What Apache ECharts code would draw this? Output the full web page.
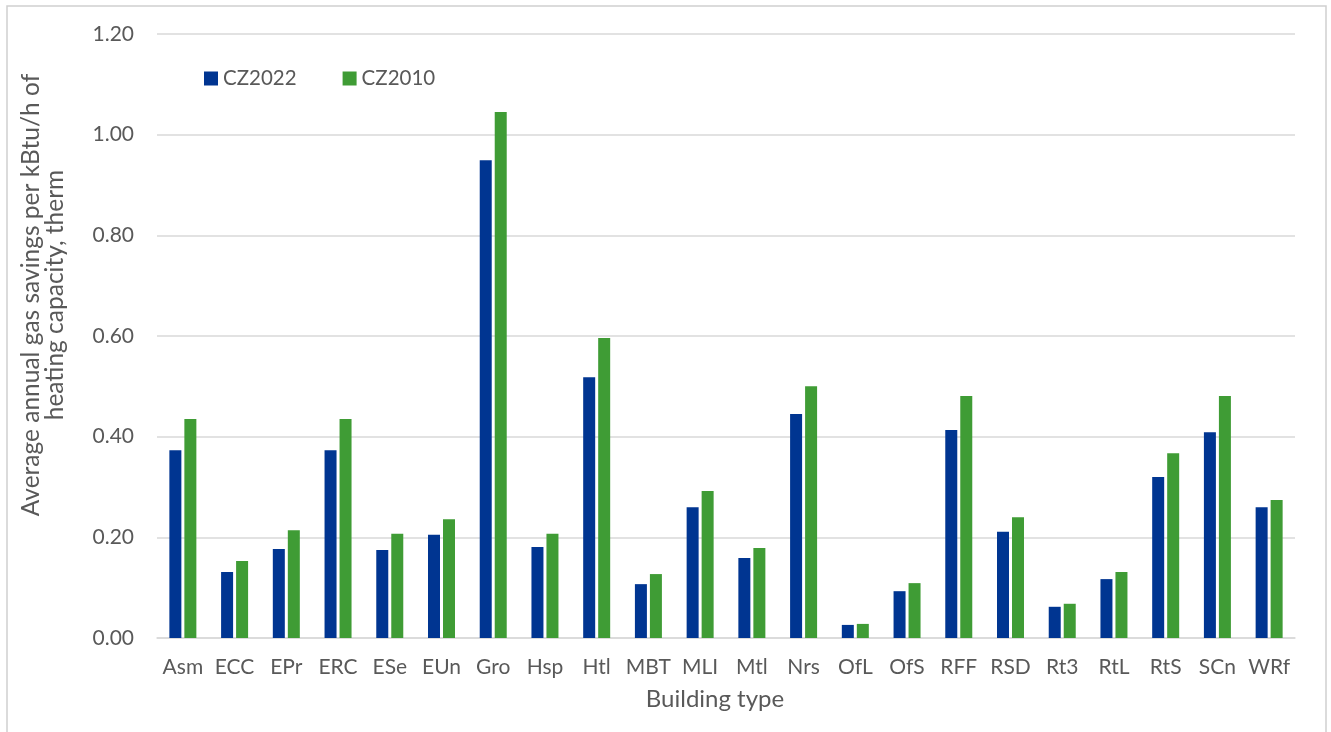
<!DOCTYPE html>
<html>
<head>
<meta charset="utf-8">
<script src="https://cdn.jsdelivr.net/npm/echarts@6/dist/echarts.min.js"></script>
<style>html,body{margin:0;padding:0;background:#fff;}#c{width:1331px;height:732px;}</style>
</head>
<body>
<div id="c"></div>
<script>
const categories = ["Asm","ECC","EPr","ERC","ESe","EUn","Gro","Hsp","Htl","MBT","MLI","Mtl","Nrs","OfL","OfS","RFF","RSD","Rt3","RtL","RtS","SCn","WRf"];
const cz2022 = [0.373,0.131,0.177,0.373,0.175,0.205,0.949,0.181,0.518,0.107,0.260,0.159,0.445,0.026,0.093,0.413,0.211,0.062,0.117,0.320,0.409,0.260];
const cz2010 = [0.435,0.153,0.214,0.435,0.207,0.236,1.045,0.207,0.596,0.127,0.292,0.179,0.500,0.028,0.109,0.481,0.240,0.068,0.131,0.367,0.481,0.274];
const seriesNames = ["CZ2022","CZ2010"];
const colors = ["#003591","#3f9c35"];

const chart = echarts.init(document.getElementById('c'));
const font = "Lato, 'Open Sans', sans-serif";
chart.setOption({
  animation: false,
  textStyle: {fontFamily: font},
  graphic: [{type:'rect', shape:{x:7,y:6,width:1319,height:740}, style:{fill:'none', stroke:'#d0d0d0', lineWidth:1.5}, silent:true}],
  legend: {
    left: 199, top: 63, itemWidth: 14, itemHeight: 14, itemGap: 46,
    icon: 'rect',
    textStyle: {fontFamily: font, fontSize: 20.5, color: '#595959'},
    data: seriesNames
  },
  grid: {left: 157, right: 36, top: 34, bottom: 94},
  xAxis: {
    type: 'category', data: categories,
    name: 'Building type', nameLocation: 'middle', nameGap: 49,
    nameTextStyle: {fontFamily: font, fontSize: 24, color: '#595959', padding: [0, 22, 0, 0]},
    axisTick: {show: false},
    axisLine: {lineStyle: {color: '#d9d9d9', width: 1.5}},
    axisLabel: {fontFamily: font, fontSize: 21, color: '#595959', margin: 19, interval: 0}
  },
  yAxis: {
    type: 'value', min: 0, max: 1.2, interval: 0.2,
    name: 'Average annual gas savings per kBtu/h of\nheating capacity, therm',
    nameLocation: 'middle', nameGap: 90, nameRotate: 90,
    nameTextStyle: {fontFamily: font, fontSize: 24.5, color: '#595959', lineHeight: 24, padding: [0, 0, 0, 82]},
    axisLine: {show: false}, axisTick: {show: false},
    axisLabel: {fontFamily: font, fontSize: 21, color: '#595959', margin: 23, formatter: v => v.toFixed(2)},
    splitLine: {lineStyle: {color: '#d9d9d9', width: 1.5}}
  },
  series: [
    {name: seriesNames[0], type: 'bar', data: cz2022, barWidth: 12, barGap: '25%', itemStyle: {color: colors[0]}},
    {name: seriesNames[1], type: 'bar', data: cz2010, barWidth: 12, barGap: '25%', itemStyle: {color: colors[1]}}
  ]
});
</script>
</body>
</html>
